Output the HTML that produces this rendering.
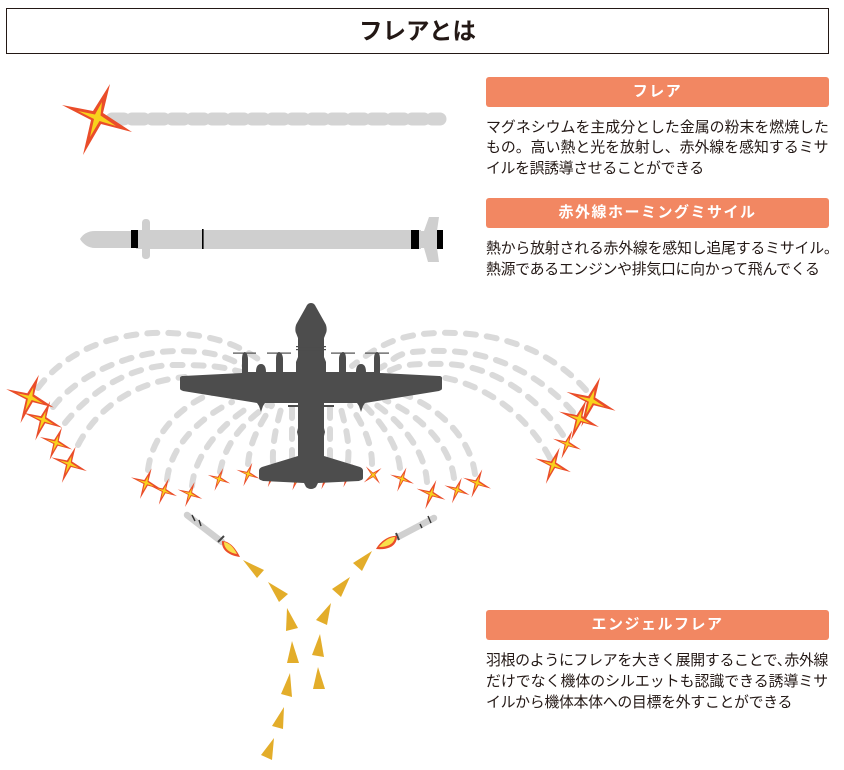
<!DOCTYPE html>
<html lang="ja">
<head>
<meta charset="utf-8">
<style>
html,body{margin:0;padding:0;background:#fff}
body{width:844px;height:770px;position:relative;overflow:hidden;font-family:"Liberation Sans","Noto Sans CJK JP",sans-serif;color:#231815}
svg{position:absolute;left:0;top:0}
.t{position:absolute;left:6px;top:8px;width:821px;height:44px;border:1px solid #231815;text-align:center;font-size:23.5px;font-weight:700;line-height:45px}
.b{position:absolute;left:486px;width:343px;height:30px;background:#f28762;border-radius:3px;color:#fff;text-align:center;font-weight:700;font-size:15px;letter-spacing:1.5px;line-height:30px}
.l{position:absolute;left:486px;width:350px;white-space:nowrap;font-size:14.9px;line-height:20px;height:20px}
</style>
</head>
<body>
<svg width="844" height="770" viewBox="0 0 844 770" xmlns="http://www.w3.org/2000/svg">
<defs>
<g id="s">
<polygon fill="#ea4d2a" points="13,-34 6,-5 35,14 4,6 -14,37 -6,2 -35,-13 -4,-7"/>
<polygon fill="#f8d21c" points="5,-16 3.5,-2.5 19,8 2.5,3 -7,19 -3,1 -19,-7 -2,-3.5"/>
</g>
</defs>

<!-- flare trail -->
<path d="M112 119H440" fill="none" stroke="#d4d4d4" stroke-width="13" stroke-linecap="round" stroke-dasharray="12 8"/>
<use href="#s" transform="translate(97 118)"/>

<!-- missile -->
<g fill="#cfcfcf">
<path d="M80 239C83 234 88 231 95 231H131V248H95C88 248 83 244 80 239Z"/>
<rect x="136" y="230" width="285" height="19"/>
<rect x="142" y="219" width="8" height="40" rx="3.5"/>
<path d="M419 231H424L429 217H439L437 231V248L439 262H428L424 248H419Z"/>
</g>
<g fill="#000">
<rect x="131" y="230" width="7" height="18"/>
<rect x="202" y="229" width="1.6" height="20"/>
<rect x="411" y="230" width="8" height="19"/>
<rect x="437" y="230" width="6" height="19"/>
</g>

<!-- dashed arcs -->
<g fill="none" stroke="#dadada" stroke-width="6" stroke-linecap="round" stroke-dasharray="10 11">
<path d="M38 388C70 345 125 331 170 333S240 345 265 364"/>
<path d="M53 407C80 372 135 351 177 351S225 358 245 366"/>
<path d="M65 423C90 392 130 365 175 365S225 368 245 373"/>
<path d="M78 445C95 412 130 382 185 377"/>
<path d="M586 390C555 355 510 335 455 333S380 345 352 366"/>
<path d="M573 412C545 380 500 352 445 351S400 358 380 368"/>
<path d="M563 435C540 400 495 365 445 364S400 368 385 372"/>
<path d="M550 458C530 420 490 385 440 377"/>
<path d="M148 470C152 435 180 405 215 392"/>
<path d="M167 480C170 450 195 420 232 402"/>
<path d="M192 486C195 455 220 425 252 405"/>
<path d="M220 472C225 445 240 425 268 405"/>
<path d="M248 464C250 440 260 425 272 405"/>
<path d="M273 462C272 440 278 420 283 402"/>
<path d="M292 460V400"/>
<path d="M330 460V400"/>
<path d="M348 462C350 440 345 425 340 405"/>
<path d="M372 464C372 440 360 420 350 405"/>
<path d="M400 468C398 445 380 420 362 403"/>
<path d="M427 482C425 450 400 420 372 402"/>
<path d="M454 478C450 445 420 415 385 400"/>
<path d="M475 474C470 435 435 405 400 393"/>
</g>

<!-- flares -->
<g>
<use href="#s" transform="translate(30 398) scale(.68)"/>
<use href="#s" transform="translate(43 420) scale(.55)"/>
<use href="#s" transform="translate(56 443) scale(.46)"/>
<use href="#s" transform="translate(69 464) scale(.51)"/>
<use href="#s" transform="translate(146 483) scale(.43)"/>
<use href="#s" transform="translate(164 491) scale(.37)"/>
<use href="#s" transform="translate(190 494) scale(.35)"/>
<use href="#s" transform="translate(219 479) scale(.32)"/>
<use href="#s" transform="translate(248 474) scale(.33)"/>
<use href="#s" transform="translate(272 476) scale(.3)"/>
<use href="#s" transform="translate(297 478) scale(.33)"/>
<use href="#s" transform="translate(326 477) scale(.33)"/>
<use href="#s" transform="translate(348 475) scale(.33)"/>
<use href="#s" transform="translate(373 475) rotate(30) scale(.3)"/>
<use href="#s" transform="translate(402 479) scale(.34)"/>
<use href="#s" transform="translate(431 494) scale(.41)"/>
<use href="#s" transform="translate(457 490) scale(.36)"/>
<use href="#s" transform="translate(477 483) scale(.4)"/>
<use href="#s" transform="translate(591 401) scale(.7)"/>
<use href="#s" transform="translate(579 419) scale(.57)"/>
<use href="#s" transform="translate(567 444) scale(.4)"/>
<use href="#s" transform="translate(553 465) scale(.51)"/>
</g>

<!-- aircraft -->
<g id="p" fill="#4d4d4d">
<path d="M311 303C308 303 307 305 306 307L297 323C295 326 295 331 296 333L298 338V357L296 362V372H283V359C283 355 281 352 279 352C277 352 276 355 276 359V372H266C266 368 265 364 261 364C257 364 256 368 256 372H248V359C248 355 246 352 245 352C243 352 242 355 242 359V373L183 376C181 376 180 377 180 378V388C180 390 181 390 183 391L257 403L259 406L261 412L263 406L265 403H298V428L297 432L298 436V456L262 467C260 468 259 469 259 471V478C259 480 261 480 263 481L304 483L306 487C307 488 309 489 311 489C313 489 315 488 316 487L318 483L359 481C361 480 363 480 363 478V471C363 469 362 468 360 467L324 456V436L325 432L324 428V403H357L359 406L361 412L363 406L365 403L439 391C441 390 442 390 442 388V378C442 377 441 376 439 376L380 373V359C380 355 379 352 377 352C375 352 374 355 374 359V372H366C366 368 365 364 361 364C357 364 356 368 356 372H346V359C346 355 345 352 343 352C341 352 339 355 339 359V372H326V362L324 357V338L326 333C327 331 327 326 325 323L316 307C315 305 314 303 311 303Z"/>
<rect x="233" y="352.5" width="23" height="1.2"/>
<rect x="267" y="352.5" width="24" height="1.2"/>
<rect x="331" y="352.5" width="24" height="1.2"/>
<rect x="365" y="352.5" width="24" height="1.2"/>
<rect x="288" y="405" width="10" height="2"/>
<rect x="324" y="405" width="10" height="2"/>
<rect x="296" y="346" width="30" height="1.2"/>
<rect x="296" y="349" width="30" height="1.2"/>
</g>

<!-- small missiles -->
<g>
<path d="M187 515L222 542" stroke="#d0d0d0" stroke-width="6.5" stroke-linecap="round"/>
<path d="M192 515L195 521M199 520L201 526" stroke="#333" stroke-width="1.4"/>
<path d="M218 542L224 536" stroke="#444" stroke-width="2"/>
<path d="M222 541C230 541 236 549 240 557C231 556 221 551 222 541Z" fill="#ea4d2a"/>
<path d="M224 542C230 543 234 548 237 554C230 553 224 549 224 542Z" fill="#f8e04a"/>
<path d="M434 518L398 537" stroke="#d0d0d0" stroke-width="6.5" stroke-linecap="round"/>
<path d="M428 516L431 523M420 524L422 528" stroke="#333" stroke-width="1.4"/>
<path d="M396 533L399 540" stroke="#444" stroke-width="2"/>
<path d="M397 536C390 535 380 541 376 549C385 550 397 548 397 536Z" fill="#ea4d2a"/>
<path d="M395 537C389 537 383 542 379 547C386 547 394 545 395 537Z" fill="#f8e04a"/>
</g>

<!-- trajectory markers -->
<g fill="#e3ad2a">
<polygon points="243,560 264,570 257,578"/>
<polygon points="268,582 288,594 279,602"/>
<polygon points="287,608 298,628 286,631"/>
<polygon points="292,641 299,663 287,663"/>
<polygon points="290,673 292,697 281,694"/>
<polygon points="284,707 283,729 272,726"/>
<polygon points="274,738 272,760 261,755"/>
<polygon points="372,551 362,571 353,563"/>
<polygon points="350,577 341,597 332,589"/>
<polygon points="331,603 327,625 316,620"/>
<polygon points="320,634 324,657 312,655"/>
<polygon points="318,667 325,689 313,689"/>
</g>
</svg>

<div class="t">フレアとは</div>

<div class="b" style="top:77px">フレア</div>
<div class="l" style="top:118px;letter-spacing:.02px">マグネシウムを主成分とした金属の粉末を燃焼した</div>
<div class="l" style="top:138px">もの。高い熱と光を放射し、赤外線を感知するミサ</div>
<div class="l" style="top:159px;letter-spacing:-.35px">イルを誤誘導させることができる</div>

<div class="b" style="top:198px">赤外線ホーミングミサイル</div>
<div class="l" style="top:239px;letter-spacing:-.2px">熱から放射される赤外線を感知し追尾するミサイル。</div>
<div class="l" style="top:260px;letter-spacing:-.3px">熱源であるエンジンや排気口に向かって飛んでくる</div>

<div class="b" style="top:610px">エンジェルフレア</div>
<div class="l" style="top:651px;letter-spacing:-.3px">羽根のようにフレアを大きく展開することで<span style="margin-right:-7px">、</span>赤外線</div>
<div class="l" style="top:672px">だけでなく機体のシルエットも認識できる誘導ミサ</div>
<div class="l" style="top:693px;letter-spacing:-.3px">イルから機体本体への目標を外すことができる</div>
</body>
</html>
